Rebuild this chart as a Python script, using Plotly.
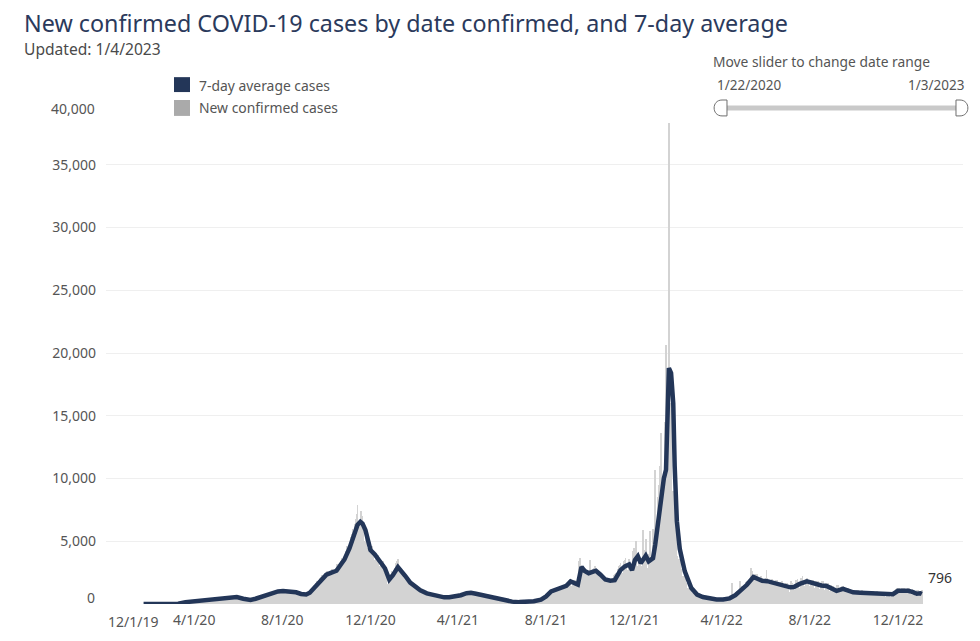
import pandas as pd
import plotly.graph_objects as go

# ---------------- data ----------------
first_day = "2020-01-22"

# Daily new confirmed cases, one row per week (Wed..Tue), 1/22/2020 .. 1/3/2023
daily_cases = [
    0, 0, 0, 0, 0, 0, 0,
    0, 0, 0, 0, 0, 0, 0,
    1, 0, 0, 0, 0, 0, 0,
    0, 0, 0, 0, 0, 0, 0,
    0, 0, 0, 0, 0, 0, 0,
    0, 0, 0, 0, 0, 0, 0,
    0, 0, 0, 0, 0, 0, 1,
    2, 4, 10, 12, 15, 25, 30,
    45, 60, 80, 70, 60, 90, 110,
    130, 150, 170, 140, 120, 150, 180,
    200, 210, 230, 190, 160, 200, 220,
    240, 260, 280, 230, 200, 250, 290,
    300, 320, 340, 280, 240, 300, 330,
    340, 350, 380, 320, 270, 320, 370,
    380, 390, 410, 350, 300, 360, 400,
    420, 440, 460, 380, 330, 380, 430,
    450, 470, 490, 410, 350, 420, 460,
    480, 500, 520, 430, 370, 440, 520,
    560, 600, 620, 540, 460, 500, 560,
    480, 470, 460, 400, 340, 360, 400,
    380, 360, 350, 300, 260, 290, 310,
    300, 320, 340, 290, 260, 300, 350,
    420, 440, 460, 400, 340, 420, 480,
    560, 600, 560, 480, 400, 540, 650,
    720, 760, 800, 700, 600, 700, 820,
    880, 920, 960, 860, 760, 860, 940,
    1000, 1050, 1080, 950, 830, 920, 1020,
    1080, 1100, 1120, 980, 850, 960, 1050,
    1050, 1080, 1100, 960, 840, 930, 1020,
    1000, 1030, 1060, 920, 800, 880, 980,
    940, 960, 980, 850, 740, 820, 900,
    820, 840, 860, 760, 660, 730, 790,
    780, 800, 830, 720, 640, 700, 880,
    1000, 1100, 1250, 1100, 900, 1050, 1300,
    1550, 1650, 1800, 1600, 1350, 1700, 2050,
    2000, 2150, 2300, 2050, 1700, 2000, 2450,
    2350, 2450, 2600, 2300, 1950, 2200, 2550,
    2650, 2700, 2800, 2500, 2150, 2350, 2750,
    2900, 3000, 3150, 2800, 2350, 2600, 3300,
    3400, 3550, 3700, 3300, 2800, 3200, 3900,
    4200, 4400, 4600, 4100, 3500, 3900, 4800,
    5300, 5600, 6000, 5400, 4600, 5200, 6400,
    6800, 7200, 7900, 6500, 5300, 5600, 6600,
    7400, 7000, 6800, 6000, 4800, 5000, 5600,
    5800, 3200, 3400, 4500, 3800, 4200, 4700,
    4600, 4500, 4600, 3900, 3200, 3500, 4000,
    4000, 3900, 3900, 3400, 2800, 3000, 3500,
    3500, 3400, 3400, 2900, 2400, 2500, 2900,
    2800, 1600, 1200, 1800, 1500, 2000, 2400,
    2600, 2000, 1400, 2600, 2400, 2900, 3300,
    3400, 3300, 3600, 3000, 2400, 2600, 2900,
    2700, 2600, 2600, 2200, 1800, 1900, 2300,
    2200, 2100, 2100, 1700, 1400, 1500, 1800,
    1700, 1600, 1600, 1300, 1050, 1150, 1450,
    1400, 1300, 1250, 1050, 850, 950, 1200,
    1100, 1050, 1000, 850, 700, 780, 950,
    900, 850, 850, 720, 600, 650, 800,
    800, 750, 760, 640, 520, 560, 700,
    680, 650, 650, 560, 460, 500, 620,
    600, 580, 580, 500, 420, 450, 560,
    600, 580, 590, 510, 430, 460, 600,
    650, 660, 680, 580, 480, 520, 700,
    720, 740, 760, 640, 540, 580, 780,
    880, 900, 920, 780, 650, 700, 950,
    950, 970, 1000, 840, 700, 760, 1000,
    900, 900, 920, 780, 640, 680, 860,
    800, 800, 820, 680, 560, 600, 760,
    680, 680, 700, 580, 480, 510, 640,
    560, 560, 570, 470, 380, 410, 520,
    440, 430, 440, 360, 290, 310, 400,
    340, 320, 330, 270, 220, 200, 260,
    280, 270, 270, 220, 180, 200, 250,
    230, 220, 220, 180, 150, 160, 200,
    190, 180, 180, 150, 120, 130, 170,
    170, 160, 160, 130, 110, 120, 150,
    160, 150, 150, 110, 90, 100, 170,
    200, 190, 200, 160, 130, 150, 210,
    240, 240, 250, 200, 160, 190, 270,
    330, 340, 360, 290, 240, 280, 400,
    480, 520, 560, 460, 380, 450, 620,
    800, 850, 900, 760, 640, 760, 1000,
    1100, 1150, 1200, 1000, 850, 1000, 1300,
    1250, 1300, 1350, 1150, 950, 1100, 1400,
    1400, 1500, 1550, 1300, 1100, 1300, 1700,
    1800, 1900, 2000, 1700, 1400, 1100, 1500,
    1900, 1800, 1900, 1500, 1200, 1300, 1600,
    2800, 3400, 3700, 3100, 2400, 2600, 3000,
    2900, 2800, 2900, 2400, 1900, 2100, 2600,
    2700, 2800, 3500, 2500, 2000, 2200, 2800,
    2900, 2900, 3000, 2500, 2000, 2200, 2600,
    2600, 2500, 2500, 2100, 1700, 1800, 2300,
    2200, 2100, 2100, 1800, 1450, 1550, 2000,
    2100, 2000, 2000, 1700, 1400, 1500, 2100,
    2300, 2400, 2500, 2100, 1700, 1900, 2800,
    3000, 3100, 3300, 2800, 2300, 2500, 3300,
    3400, 3500, 3700, 3100, 2500, 2700, 3400,
    3600, 1200, 1800, 2800, 2400, 4200, 4500,
    4300, 4500, 5000, 3700, 2800, 3000, 3900,
    3200, 3300, 3000, 2600, 2300, 5900, 4500,
    4200, 4300, 5200, 3300, 2600, 2900, 4000,
    4800, 5800, 1500, 1200, 3500, 6000, 5500,
    7000, 10700, 6500, 3500, 4500, 8500, 9500,
    11000, 11000, 13600, 9000, 7500, 8500, 9400,
    14500, 14500, 20600, 14000, 13500, 14500, 38300,
    16500, 16000, 15500, 9000, 7500, 9000, 8500,
    7000, 6000, 5500, 3800, 3000, 3300, 3600,
    3400, 3000, 2800, 2200, 1700, 1800, 2200,
    2000, 1800, 1700, 1300, 1000, 1050, 1250,
    1200, 1100, 1050, 850, 650, 700, 900,
    850, 800, 780, 600, 470, 500, 650,
    650, 620, 600, 480, 380, 400, 520,
    560, 540, 520, 410, 330, 350, 460,
    470, 450, 440, 350, 280, 300, 380,
    420, 400, 390, 310, 250, 270, 330,
    420, 410, 420, 330, 270, 290, 380,
    480, 500, 520, 400, 320, 360, 480,
    620, 650, 1700, 520, 420, 480, 700,
    900, 950, 1000, 800, 650, 750, 1800,
    1300, 1350, 1400, 1150, 950, 1100, 1500,
    1700, 1750, 1850, 1500, 1200, 1400, 2000,
    2300, 2900, 2600, 2000, 1600, 1800, 2400,
    2300, 2200, 2400, 1900, 1500, 1700, 2100,
    2200, 2100, 2100, 1700, 1300, 1200, 2000,
    2100, 2700, 2100, 1600, 1200, 1300, 1800,
    1900, 1900, 2000, 1500, 1150, 1250, 1800,
    1900, 1850, 1900, 1450, 1100, 1200, 1700,
    1750, 1800, 1850, 1400, 1050, 1150, 1600,
    1650, 1600, 1650, 1250, 950, 900, 900,
    1800, 1700, 1700, 1300, 1000, 1100, 1600,
    1900, 1900, 2000, 1500, 1150, 1300, 1900,
    2100, 2100, 2200, 1700, 1300, 1450, 2000,
    2000, 2100, 2100, 1600, 1250, 1400, 1900,
    1900, 1900, 1950, 1500, 1150, 1250, 1750,
    1800, 1800, 1850, 1400, 1100, 1200, 1700,
    1750, 1800, 1800, 1350, 1050, 1150, 1650,
    1650, 1650, 1700, 1300, 1000, 1050, 1500,
    1450, 1400, 1400, 1050, 800, 700, 1000,
    1500, 1450, 1500, 1100, 850, 950, 1350,
    1400, 1350, 1400, 1050, 800, 900, 1250,
    1250, 1200, 1250, 950, 700, 800, 1150,
    1150, 1100, 1100, 850, 650, 700, 1000,
    1100, 1050, 1100, 800, 620, 680, 1000,
    1100, 1050, 1050, 800, 600, 650, 950,
    1050, 1050, 1050, 780, 600, 650, 950,
    1050, 1000, 1000, 760, 580, 640, 930,
    1000, 960, 960, 720, 550, 600, 880,
    950, 920, 920, 680, 520, 570, 820,
    900, 880, 880, 650, 500, 550, 800,
    950, 400, 700, 750, 600, 1200, 1300,
    1300, 1250, 1300, 950, 750, 850, 1200,
    1300, 1250, 1300, 950, 750, 850, 1200,
    1250, 1200, 1250, 900, 700, 800, 1150,
    1200, 1100, 1000, 700, 500, 600, 1100,
    1150, 1100, 1050, 700, 550, 600, 1150,
]

# 7-day average cases, read at points along the line
avg_dates = [
    "2020-01-22", "2020-02-15", "2020-03-10", "2020-03-20", "2020-04-01", "2020-04-10",
    "2020-04-20", "2020-04-28", "2020-05-08", "2020-05-16", "2020-05-25", "2020-05-30",
    "2020-06-08", "2020-06-18", "2020-06-25", "2020-07-01", "2020-07-10", "2020-07-19",
    "2020-07-26", "2020-08-02", "2020-08-11", "2020-08-20", "2020-08-27", "2020-09-03",
    "2020-09-08", "2020-09-15", "2020-09-22", "2020-10-01", "2020-10-08", "2020-10-15",
    "2020-10-21", "2020-10-26", "2020-11-02", "2020-11-09", "2020-11-13", "2020-11-17",
    "2020-11-20", "2020-11-24", "2020-11-28", "2020-12-01", "2020-12-07", "2020-12-14",
    "2020-12-21", "2020-12-27", "2021-01-01", "2021-01-08", "2021-01-12", "2021-01-18",
    "2021-01-25", "2021-02-01", "2021-02-08", "2021-02-17", "2021-02-26", "2021-03-06",
    "2021-03-13", "2021-03-20", "2021-03-27", "2021-04-05", "2021-04-13", "2021-04-19",
    "2021-04-26", "2021-05-04", "2021-05-12", "2021-05-20", "2021-05-28", "2021-06-05",
    "2021-06-15", "2021-06-25", "2021-07-05", "2021-07-15", "2021-07-25", "2021-08-01",
    "2021-08-08", "2021-08-15", "2021-08-22", "2021-08-29", "2021-09-04", "2021-09-10",
    "2021-09-14", "2021-09-19", "2021-09-23", "2021-09-29", "2021-10-05", "2021-10-09",
    "2021-10-15", "2021-10-22", "2021-10-29", "2021-11-04", "2021-11-12", "2021-11-18",
    "2021-11-24", "2021-11-28", "2021-12-02", "2021-12-06", "2021-12-10", "2021-12-14",
    "2021-12-17", "2021-12-21", "2021-12-27", "2021-12-30", "2022-01-03", "2022-01-07",
    "2022-01-11", "2022-01-14", "2022-01-16", "2022-01-18", "2022-01-21", "2022-01-24",
    "2022-01-26", "2022-01-29", "2022-02-02", "2022-02-09", "2022-02-18", "2022-02-26",
    "2022-03-06", "2022-03-16", "2022-03-25", "2022-04-03", "2022-04-12", "2022-04-20",
    "2022-04-27", "2022-05-06", "2022-05-15", "2022-05-20", "2022-05-27", "2022-06-03",
    "2022-06-10", "2022-06-18", "2022-06-25", "2022-07-05", "2022-07-10", "2022-07-18",
    "2022-07-28", "2022-08-03", "2022-08-10", "2022-08-17", "2022-08-24", "2022-09-01",
    "2022-09-07", "2022-09-16", "2022-09-23", "2022-09-30", "2022-10-10", "2022-10-20",
    "2022-10-30", "2022-11-08", "2022-11-16", "2022-11-24", "2022-12-01", "2022-12-08",
    "2022-12-15", "2022-12-22", "2022-12-27", "2023-01-01", "2023-01-03",
]
avg_values = [
    0, 0, 20, 150, 220, 300,
    330, 360, 420, 450, 500, 560,
    420, 320, 420, 530, 690, 900,
    1000, 1040, 1000, 930, 800, 760,
    900, 1350, 1830, 2330, 2500, 2650,
    3150, 3550, 4450, 5700, 6300, 6550,
    6400, 5900, 5000, 4300, 3950, 3400,
    2850, 1950, 2300, 2950, 2700, 2250,
    1700, 1350, 1100, 850, 720, 600,
    530, 540, 600, 700, 860, 900,
    820, 720, 600, 480, 340, 260,
    190, 150, 160, 220, 350, 600,
    1000, 1150, 1250, 1450, 1800, 1700,
    1550, 2950, 2650, 2450, 2600, 2650,
    2350, 1950, 1850, 1900, 2700, 3000,
    3150, 2700, 3500, 3800, 3250, 3700,
    3850, 3400, 3650, 4700, 6500, 8900,
    10000, 10700, 15500, 18800, 18400, 16000,
    11000, 6600, 4400, 2600, 1270, 750,
    560, 450, 360, 360, 450, 700,
    1050, 1530, 2150, 2000, 1850, 1820,
    1700, 1600, 1520, 1330, 1350, 1600,
    1800, 1700, 1560, 1480, 1430, 1200,
    1050, 1200, 1050, 930, 900, 880,
    860, 800, 740, 780, 1050, 1080,
    1050, 950, 820, 850, 796,
]

x_tick_dates = ["2019-12-01", "2020-04-01", "2020-08-01", "2020-12-01", "2021-04-01",
                "2021-08-01", "2021-12-01", "2022-04-01", "2022-08-01", "2022-12-01"]
x_tick_labels = ["12/1/19", "4/1/20", "8/1/20", "12/1/20", "4/1/21",
                 "8/1/21", "12/1/21", "4/1/22", "8/1/22", "12/1/22"]
y_tick_values = [0, 5000, 10000, 15000, 20000, 25000, 30000, 35000, 40000]
y_tick_labels = ["0", "5,000", "10,000", "15,000", "20,000", "25,000", "30,000", "35,000", "40,000"]

slider_start_label = "1/22/2020"
slider_end_label = "1/3/2023"

# ---------------- figure ----------------
daily_dates = pd.date_range(first_day, periods=len(daily_cases), freq="D")
assert str(daily_dates[-1].date()) == "2023-01-03", (len(daily_cases), daily_dates[-1])

W, H = 980, 641
L, R, T, B = 106, 963, 102, 607
PW, PH = R - L, B - T


def px(x):
    return (x - L) / PW


def py(y):
    return (B - y) / PH


FONT = "Noto Sans"
NAVY = "#233658"
BAR_GRAY = "#d3d3d3"
TXT = "#555555"

fig = go.Figure()
fig.add_trace(go.Bar(
    x=daily_dates, y=daily_cases, marker=dict(color=BAR_GRAY, line=dict(width=0)),
    name="New confirmed cases", showlegend=False, hoverinfo="skip",
))
fig.add_trace(go.Scatter(
    x=pd.to_datetime(avg_dates), y=avg_values, mode="lines",
    line=dict(color=NAVY, width=4.5), name="7-day average cases", showlegend=False,
))

annotations = []
# x tick label for the first tick, kept inside the axis like the original
annotations.append(dict(x=x_tick_dates[0], y=0, xref="x", yref="paper", text=x_tick_labels[0],
                        showarrow=False, xanchor="center", yanchor="top", xshift=27, yshift=-6,
                        font=dict(family=FONT, size=14, color=TXT)))
# y labels at the range edges, nudged inward like the original
annotations.append(dict(x=0, y=y_tick_values[-1], xref="paper", yref="y", text=y_tick_labels[-1],
                        showarrow=False, xanchor="right", yanchor="middle", xshift=-9, yshift=-6,
                        font=dict(family=FONT, size=14, color=TXT)))
annotations.append(dict(x=0, y=y_tick_values[0], xref="paper", yref="y", text=y_tick_labels[0],
                        showarrow=False, xanchor="right", yanchor="middle", xshift=-9, yshift=7,
                        font=dict(family=FONT, size=14, color=TXT)))
# last value label
annotations.append(dict(x=avg_dates[-1], y=avg_values[-1], xref="x", yref="y",
                        text=f"{avg_values[-1]:,}", showarrow=False, xanchor="left", yanchor="middle",
                        xshift=4, yshift=17, font=dict(family=FONT, size=14, color="#333333")))
# title + subtitle
annotations.append(dict(x=px(22), y=py(23), xref="paper", yref="paper",
                        text="New confirmed COVID-19 cases by date confirmed, and 7-day average",
                        showarrow=False, xanchor="left", yanchor="middle",
                        font=dict(family=FONT, size=23.3, color="#2b3a5c")))
annotations.append(dict(x=px(22), y=py(49), xref="paper", yref="paper", text="Updated: 1/4/2023",
                        showarrow=False, xanchor="left", yanchor="middle",
                        font=dict(family=FONT, size=15.6, color="#4a4a4a")))
# legend text
annotations.append(dict(x=px(197), y=py(85), xref="paper", yref="paper", text="7-day average cases",
                        showarrow=False, xanchor="left", yanchor="middle",
                        font=dict(family=FONT, size=13.9, color=TXT)))
annotations.append(dict(x=px(197), y=py(108), xref="paper", yref="paper", text="New confirmed cases",
                        showarrow=False, xanchor="left", yanchor="middle",
                        font=dict(family=FONT, size=13.9, color=TXT)))
# slider texts
annotations.append(dict(x=px(711), y=py(61), xref="paper", yref="paper",
                        text="Move slider to change date range", showarrow=False,
                        xanchor="left", yanchor="middle", font=dict(family=FONT, size=13.8, color=TXT)))
annotations.append(dict(x=px(715), y=py(85), xref="paper", yref="paper", text=slider_start_label,
                        showarrow=False, xanchor="left", yanchor="middle",
                        font=dict(family=FONT, size=13.5, color=TXT)))
annotations.append(dict(x=px(966), y=py(85), xref="paper", yref="paper", text=slider_end_label,
                        showarrow=False, xanchor="right", yanchor="middle",
                        font=dict(family=FONT, size=13.5, color=TXT)))

shapes = []
# legend squares
shapes.append(dict(type="rect", xref="paper", yref="paper", x0=px(174), x1=px(190), y0=py(77), y1=py(92),
                   fillcolor=NAVY, line=dict(width=0)))
shapes.append(dict(type="rect", xref="paper", yref="paper", x0=px(174), x1=px(190), y0=py(100), y1=py(116),
                   fillcolor="#aaaaaa", line=dict(width=0)))
# slider track
shapes.append(dict(type="line", xref="paper", yref="paper", x0=px(724), x1=px(958), y0=py(108), y1=py(108),
                   line=dict(color="#c9c9c9", width=5)))


def pth(points):
    parts = []
    for cmd, pts in points:
        coords = " ".join(f"{px(a):.5f},{py(b):.5f}" for a, b in pts)
        parts.append(f"{cmd} {coords}")
    return " ".join(parts) + " Z"


left_handle = pth([("M", [(727, 100)]), ("L", [(722, 100)]),
                   ("C", [(711.5, 100), (711.5, 116), (722, 116)]), ("L", [(727, 116)])])
right_handle = pth([("M", [(956, 100)]), ("L", [(960, 100)]),
                    ("C", [(970.5, 100), (970.5, 116), (960, 116)]), ("L", [(956, 116)])])
for p in (left_handle, right_handle):
    shapes.append(dict(type="path", xref="paper", yref="paper", path=p,
                       fillcolor="white", line=dict(color="#6e6e6e", width=1)))

fig.update_layout(
    width=W, height=H,
    margin=dict(l=L, r=W - R, t=T, b=H - B),
    paper_bgcolor="white", plot_bgcolor="white",
    bargap=0, showlegend=False, hovermode=False,
    font=dict(family=FONT, color=TXT),
    annotations=annotations, shapes=shapes,
    xaxis=dict(
        type="date", range=["2019-12-01", "2023-03-01"],
        tickvals=x_tick_dates, ticktext=[""] + x_tick_labels[1:],
        showgrid=False, zeroline=False, showline=False, ticks="",
        tickfont=dict(family=FONT, size=14, color=TXT), ticklabelstandoff=6,
    ),
    yaxis=dict(
        range=[0, 40000],
        tickvals=y_tick_values[1:], ticktext=y_tick_labels[1:-1] + [""],
        showgrid=True, gridcolor="#efefef", gridwidth=1, zeroline=False, showline=False, ticks="",
        tickfont=dict(family=FONT, size=14, color=TXT), ticklabelstandoff=9,
    ),
)

fig.write_html("out.html", config={"displayModeBar": False},
               post_script="document.body.style.margin='0';")
